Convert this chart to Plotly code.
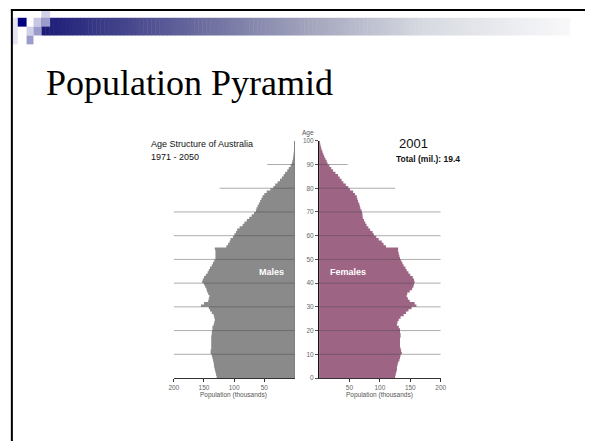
import plotly.graph_objects as go

# ---------------- data ----------------
ages = list(range(0, 101))
male = [129, 130, 131, 132, 133, 133.5, 134, 135, 136, 137,
        139, 139, 138, 138, 138, 138, 138, 138, 137, 137,
        136, 136, 134, 133, 132, 133, 134, 137, 140, 142,
        155, 150, 143, 142, 141, 143, 145, 146, 148, 150,
        153, 152, 150, 147, 144, 142, 140, 137, 135, 133,
        131, 131, 131, 131, 132,
        113, 110, 107.5, 106, 102,
        99.5, 97, 95, 91, 86,
        83, 79, 75, 71, 67,
        64, 63, 61, 59, 57,
        55, 53, 50, 46, 40,
        35, 32, 28, 24, 21,
        18, 15.5, 12, 9.5, 6.5,
        4.5, 3.5, 2.5, 2, 1.5,
        1, 0.8, 0.6, 0.4, 0.3,
        0.2]
female = [125, 126, 127, 128, 128, 129, 130, 132, 133, 134,
          136, 135, 134, 133, 133, 133, 133, 134, 134, 133,
          133, 131, 128, 129, 131, 134, 139, 143, 147, 152,
          160, 157, 149, 146, 144, 145, 149, 153, 155, 156,
          157, 156, 154, 150, 147, 144, 142, 139, 137, 135,
          133, 132, 131, 130, 130,
          110, 106, 103, 98, 94,
          90, 88, 84, 81, 78,
          76, 74, 72, 71.5, 71,
          70, 68, 67, 66, 64,
          63, 62, 59, 56, 51,
          48, 44, 40, 37, 34,
          31, 27, 23, 20, 17,
          14, 12.5, 10.5, 8.5, 7,
          5.5, 4, 3, 2, 1.5,
          1]
age_ticks = list(range(0, 101, 10))
male_x_ticks = [200, 150, 100, 50]
female_x_ticks = [50, 100, 150, 200]
grid_ages = [10, 20, 30, 40, 50, 60, 70, 80, 90]
male_grid_extent = [200, 200, 200, 200, 200, 200, 200, 124, 45]
female_grid_extent = [200, 200, 200, 200, 200, 200, 200, 125, 47]

W, H = 591, 444
def px(x):
    return x / W
def py(y):
    return 1 - y / H

MALE_C = "#8a8a8a"
FEMALE_C = "#9d6483"
TICK_FONT = dict(family="Liberation Sans, Arial", size=6.5, color="#666666")

fig = go.Figure()
# step-shaped pyramid halves (one bar per single year of age)
fig.add_trace(go.Scatter(
    x=male, y=ages, mode="lines", line=dict(shape="vh", width=0, color=MALE_C),
    fill="tozerox", fillcolor=MALE_C,
    xaxis="x", yaxis="y", hoverinfo="skip", showlegend=False))
fig.add_trace(go.Scatter(
    x=female, y=ages, mode="lines", line=dict(shape="vh", width=0, color=FEMALE_C),
    fill="tozerox", fillcolor=FEMALE_C,
    xaxis="x2", yaxis="y", hoverinfo="skip", showlegend=False))

ydom = [py(380), py(139)]
fig.update_layout(
    width=W, height=H, autosize=False,
    margin=dict(l=0, r=0, t=0, b=0),
    paper_bgcolor="white", plot_bgcolor="rgba(0,0,0,0)",
    xaxis=dict(domain=[px(172), px(295)], range=[200, 0], anchor="y",
               showgrid=False, zeroline=False, showline=True, linecolor="#333333",
               linewidth=1, ticks="outside", ticklen=3, tickcolor="#333333",
               tickvals=male_x_ticks, tickfont=TICK_FONT, fixedrange=True),
    xaxis2=dict(domain=[px(320), px(444)], range=[0, 200], anchor="y",
                showgrid=False, zeroline=False, showline=True, linecolor="#333333",
                linewidth=1, ticks="outside", ticklen=3, tickcolor="#333333",
                tickvals=female_x_ticks, tickfont=TICK_FONT, fixedrange=True),
    yaxis=dict(domain=ydom, range=[0, 100], anchor="x2", side="left",
               showgrid=False, zeroline=False, showline=True, linecolor="#111111",
               linewidth=1, ticks="outside", ticklen=3, tickcolor="#555555",
               tickvals=age_ticks, tickfont=TICK_FONT, fixedrange=True),
)

shapes = []
# gridlines
for a, e in zip(grid_ages, male_grid_extent):
    shapes.append(dict(type="line", xref="x", yref="y", x0=0, x1=e, y0=a, y1=a,
                       line=dict(color="rgba(70,70,70,0.45)", width=1), layer="above"))
for a, e in zip(grid_ages, female_grid_extent):
    shapes.append(dict(type="line", xref="x2", yref="y", x0=0, x1=e, y0=a, y1=a,
                       line=dict(color="rgba(70,70,70,0.45)", width=1), layer="above"))
# male vertical axis line
shapes.append(dict(type="line", xref="x", yref="y", x0=0, x1=0, y0=0, y1=100,
                   line=dict(color="#222222", width=1), layer="above"))

# slide decoration: gradient header bar
stops = [(0.0, (28, 28, 120)), (0.3, (110, 110, 160)), (0.5, (165, 168, 190)),
         (0.7, (215, 218, 225)), (1.0, (252, 252, 253))]
def grad(t):
    for (t0, c0), (t1, c1) in zip(stops[:-1], stops[1:]):
        if t0 <= t <= t1:
            f = (t - t0) / (t1 - t0)
            return "rgb(%d,%d,%d)" % tuple(round(c0[i] + f * (c1[i] - c0[i])) for i in range(3))
    return "rgb(252,252,253)"
x0b, x1b, step = 37, 580, 4
n = int((x1b - x0b) / step) + 1
for i in range(n):
    xa = x0b + i * step
    xb = min(xa + step + 0.5, x1b)
    shapes.append(dict(type="rect", xref="paper", yref="paper",
                       x0=px(xa), x1=px(xb), y0=py(32), y1=py(14),
                       fillcolor=grad((xa - x0b) / (591 - x0b)), line=dict(width=0), layer="below"))
squares = [
    (7, 13, 14, 41, "#e4e4f2"),
    (13, 22, 14, 23, "#000080"),
    (29, 37, 14, 23, "#c8c8e4"),
    (37, 46, 7, 14, "#d0d0e8"),
    (37, 46, 14, 23, "#9c9ccc"),
    (22, 29, 23, 32, "#d0d0e8"),
    (29, 37, 23, 32, "#9c9ccc"),
    (22, 29, 32, 41, "#9c9ccc"),
]
for xa, xb, ya, yb, c in squares:
    shapes.append(dict(type="rect", xref="paper", yref="paper",
                       x0=px(xa), x1=px(xb), y0=py(yb), y1=py(ya),
                       fillcolor=c, line=dict(width=0), layer="below"))
# white patch at the top-right corner (right end of the header fades to white)
shapes.append(dict(type="rect", xref="paper", yref="paper", x0=px(576), x1=1,
                   y0=py(34), y1=py(7), fillcolor="white", line=dict(width=0), layer="above"))
# slide border (top and left)
shapes.append(dict(type="line", xref="paper", yref="paper", x0=px(6), x1=1, y0=py(6), y1=py(6),
                   line=dict(color="black", width=2), layer="above"))
shapes.append(dict(type="line", xref="paper", yref="paper", x0=px(7), x1=px(7), y0=py(5), y1=0,
                   line=dict(color="black", width=2), layer="above"))
fig.update_layout(shapes=shapes)

SANS = "Liberation Sans, Arial"
ann = [
    dict(text="Population Pyramid", x=px(40), y=py(80), xanchor="left", yanchor="middle",
         font=dict(family="Liberation Serif, Times New Roman", size=36, color="black")),
    dict(text="Age Structure of Australia", x=px(147), y=py(142), xanchor="left", yanchor="middle",
         font=dict(family=SANS, size=9, color="#111111")),
    dict(text="1971 - 2050", x=px(147), y=py(155), xanchor="left", yanchor="middle",
         font=dict(family=SANS, size=9, color="#111111")),
    dict(text="2001", x=px(399), y=py(142), xanchor="left", yanchor="middle",
         font=dict(family=SANS, size=13, color="#111111")),
    dict(text="<b>Total (mil.): 19.4</b>", x=px(396), y=py(157), xanchor="left", yanchor="middle",
         font=dict(family=SANS, size=8.5, color="#111111")),
    dict(text="<b>Males</b>", x=px(272), y=py(272), xanchor="center", yanchor="middle",
         font=dict(family=SANS, size=9, color="white")),
    dict(text="<b>Females</b>", x=px(349), y=py(272), xanchor="center", yanchor="middle",
         font=dict(family=SANS, size=9, color="white")),
    dict(text="Age", x=px(309), y=py(131), xanchor="center", yanchor="middle",
         font=dict(family=SANS, size=6.5, color="#555555")),
    dict(text="Population (thousands)", x=px(233), y=py(397), xanchor="center", yanchor="middle",
         font=dict(family=SANS, size=6.5, color="#555555")),
    dict(text="Population (thousands)", x=px(382), y=py(397), xanchor="center", yanchor="middle",
         font=dict(family=SANS, size=6.5, color="#555555")),
]
for a in ann:
    a.update(xref="paper", yref="paper", showarrow=False)
fig.update_layout(annotations=ann)

fig.write_html("out.html", config={"staticPlot": True, "displayModeBar": False},
               post_script="document.body.style.margin='0';document.body.style.overflow='hidden';")
